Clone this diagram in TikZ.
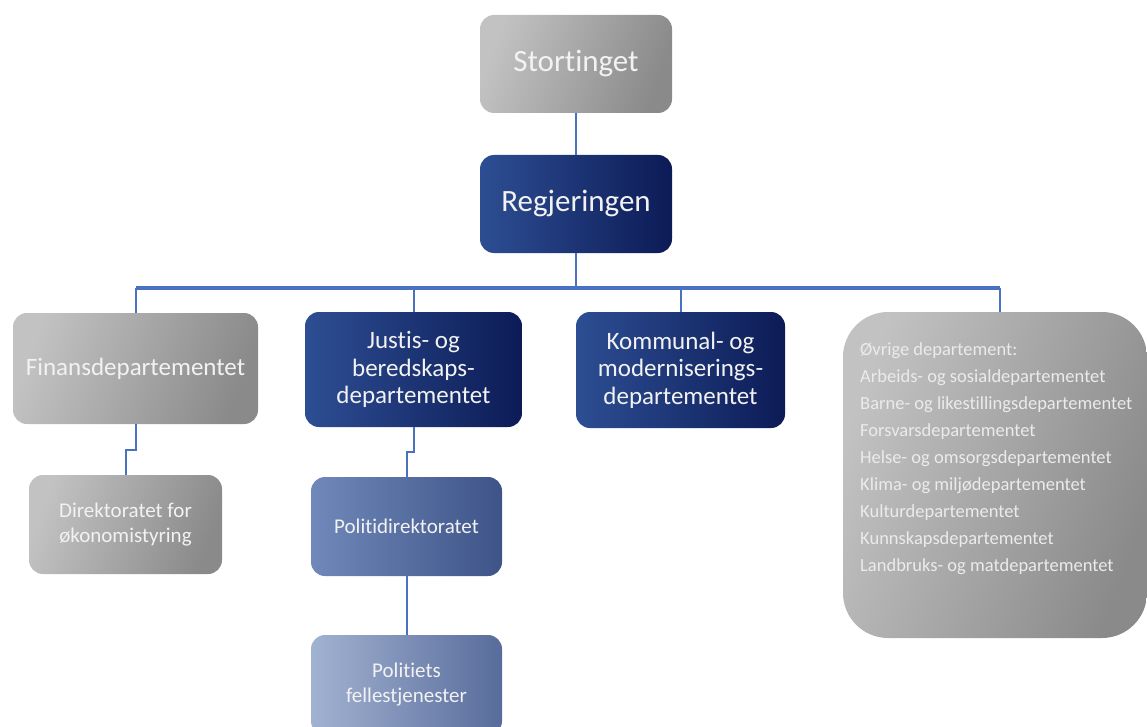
\documentclass[tikz,border=0pt]{standalone}
\usepackage{fontspec}
\setmainfont{Carlito}[Ligatures=NoCommon]
\usepackage{tikz}
\usetikzlibrary{positioning,calc}
\definecolor{linkblue}{HTML}{4A72C0}
\definecolor{grayhi}{HTML}{C2C2C2}
\definecolor{graylo}{HTML}{8A8A8A}
\definecolor{navyhi}{HTML}{2D4E93}
\definecolor{navylo}{HTML}{0C1B56}
\definecolor{midhi}{HTML}{7088BA}
\definecolor{midlo}{HTML}{3E5488}
\definecolor{palehi}{HTML}{A2B2D1}
\definecolor{palelo}{HTML}{586C9C}
\tikzstyle{box}=[rectangle,rounded corners=14pt,text=white!95!black,align=center,inner sep=0pt]
\tikzstyle{graybox}=[box,left color=grayhi,right color=graylo,shading angle=70]
\tikzstyle{navybox}=[box,left color=navyhi,right color=navylo]
\tikzstyle{midbox}=[box,left color=midhi,right color=midlo]
\tikzstyle{palebox}=[box,left color=palehi,right color=palelo]
\tikzstyle{conn}=[draw=linkblue,line width=2pt]
\begin{document}
\begin{tikzpicture}[x=1pt,y=-1pt]
\useasboundingbox (0,0) rectangle (1147,727);
\clip (0,0) rectangle (1147,727);
% top of the chart
\node [graybox,minimum width=192pt,minimum height=98pt,font=\fontsize{31}{36}\selectfont] (sting) at (576,64) {Stortinget};
\node [navybox,minimum width=192pt,minimum height=98pt,font=\fontsize{31}{36}\selectfont] (regj) at (576,204) {Regjeringen};
% departments
\node [graybox,minimum width=245pt,minimum height=111pt,font=\fontsize{25}{27.5}\selectfont] (fin) at (135.5,368.5) {Finansdepartementet};
\node [navybox,minimum width=217pt,minimum height=115pt,font=\fontsize{25}{27.5}\selectfont] (jd) at (413.5,369.5) {Justis- og\\beredskaps-\\departementet};
\node [navybox,minimum width=209pt,minimum height=116pt,font=\fontsize{25}{27.5}\selectfont] (kmd) at (680.5,370) {Kommunal- og\\moderniserings-\\departementet};
\node [graybox,rounded corners=45pt,minimum width=304pt,minimum height=326pt] (ovr) at (995,475) {};
\node [anchor=base west,align=left,text=white!92!black,inner sep=0pt,font=\fontsize{18.5}{27}\selectfont] (ovrlist) at (860,571) {%
  Øvrige departement:\\Arbeids- og sosialdepartementet\\Barne- og likestillingsdepartementet\\%
  Forsvarsdepartementet\\Helse- og omsorgsdepartementet\\Klima- og miljødepartementet\\%
  Kulturdepartementet\\Kunnskapsdepartementet\\Landbruks- og matdepartementet};
% directorates
\node [graybox,minimum width=193pt,minimum height=99pt,font=\fontsize{21}{25}\selectfont] (dfo) at (125.5,524.5) {Direktoratet for\\økonomistyring};
\node [midbox,minimum width=191pt,minimum height=99pt,font=\fontsize{21}{25}\selectfont] (pod) at (406.5,526.5) {Politidirektoratet};
\node [palebox,minimum width=191pt,minimum height=100pt,font=\fontsize{21}{25}\selectfont] (pfs) at (406.5,685) {Politiets\\fellestjenester};
% connectors
\coordinate (bus) at (576,288);
\draw [conn] (sting.south) -- (regj.north);
\draw [conn] (regj.south) -- (bus);
\draw [conn,line width=3.5pt] (fin.north |- bus) -- (1000,288);
\foreach \n in {fin,jd,kmd} \draw [conn] (\n.north |- bus) -- (\n.north);
\draw [conn] (1000,288) -- (1000,312);
\draw [conn] (fin.south) -- ++(0,26) -| (dfo.north);
\draw [conn] (jd.south) -- ++(0,25) -| (pod.north);
\draw [conn] (pod.south) -- (pfs.north);
\end{tikzpicture}
\end{document}
